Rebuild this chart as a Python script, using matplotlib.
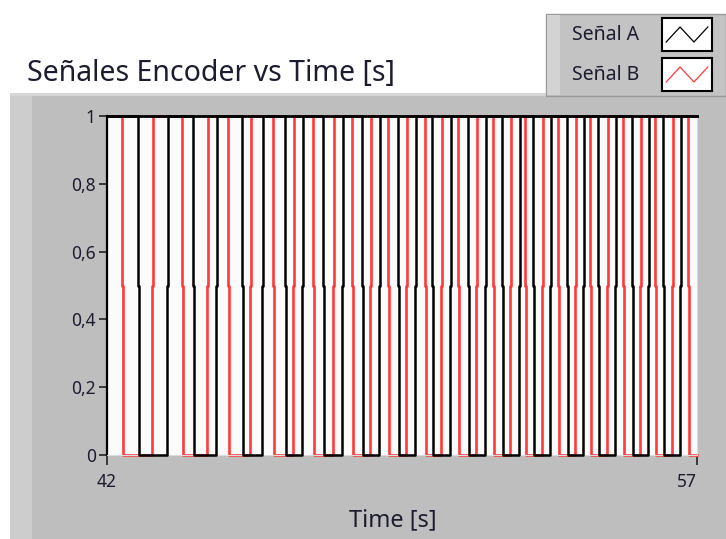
import numpy as np
import matplotlib.pyplot as plt
from matplotlib.patches import Rectangle

plt.rcParams['font.family'] = ['Noto Sans', 'DejaVu Sans']

# time window of the chart
t_start = 42.0
t_end = 57.0

# Señal A (black): falling / rising edges [s]
a_fall = [42.79, 44.19, 45.43, 46.53, 47.49, 48.48, 49.40, 50.26, 51.18, 52.04,
          52.83, 53.70, 54.48, 55.35, 56.14]
a_rise = [43.53, 44.77, 45.94, 46.96, 47.98, 48.92, 49.83, 50.72, 51.61, 52.48,
          53.26, 54.10, 54.92, 55.75, 56.57]

# Señal B (red): falling / rising edges [s]
b_fall = [42.38, 43.91, 45.08, 46.22, 47.24, 48.23, 49.14, 50.09, 50.92, 51.81,
          52.63, 53.47, 54.28, 55.12, 55.93, 56.77]
b_rise = [43.14, 44.54, 45.64, 46.73, 47.75, 48.69, 49.60, 50.49, 51.38, 52.25,
          53.06, 53.90, 54.71, 55.55, 56.36]

y_ticks = [0, 0.2, 0.4, 0.6, 0.8, 1]
y_tick_labels = ['0', '0,2', '0,4', '0,6', '0,8', '1']
x_ticks = [42, 57]
x_tick_labels = ['42', '57']

text_col = '#1c1c30'


def square_wave(falls, rises, dt=0.03):
    # each edge spans one sample step, drawn LabVIEW-like with a jog at mid height
    edges = sorted([(t, 0) for t in falls] + [(t, 1) for t in rises])
    xs = [t_start]
    ys = [1]
    level = 1
    for t, v in edges:
        xs += [t, t, t + dt, t + dt]
        ys += [level, 0.5, 0.5, v]
        level = v
    xs.append(t_end)
    ys.append(level)
    return np.array(xs), np.array(ys)


W, H = 726, 539
fig = plt.figure(figsize=(W / 100, H / 100), dpi=100)
fig.patch.set_facecolor('white')


def px_rect(x0, y0, x1, y1, z, **kw):
    # rectangle given in image pixels (y down)
    r = Rectangle((x0 / W, 1 - y1 / H), (x1 - x0) / W, (y1 - y0) / H,
                  transform=fig.transFigure, zorder=z, **kw)
    fig.patches.append(r)


# main gray panel
px_rect(10, 93, 726, 539, -10, facecolor='#bebebe', edgecolor='none')
px_rect(10, 93, 32, 539, -9, facecolor='#cdcdcd', edgecolor='none')
px_rect(10, 93, 726, 96, -9, facecolor='#d6d6d6', edgecolor='none')

# legend panel
px_rect(546, 14, 726, 96, -5, facecolor='#c3c3c3', edgecolor='#9a9a9a', lw=1)
px_rect(547, 15, 560, 95, -4, facecolor='#d3d3d3', edgecolor='none')

fig.text(27 / W, 1 - 73 / H, 'Señales Encoder vs Time [s]', fontsize=20.5,
         color=text_col, va='center', ha='left')

ax = fig.add_axes([107 / W, 1 - 455 / H, 590 / W, (455 - 116) / H])
ax.set_facecolor('#fbfbfb')

xb, yb = square_wave(b_fall, b_rise)
xa, ya = square_wave(a_fall, a_rise)
ax.plot(xb, yb, color='#ff3a3a', lw=1.9, zorder=2, clip_on=False)
ax.plot(xa, ya, color='black', lw=1.8, zorder=3, clip_on=False)

ax.set_xlim(t_start, t_end)
ax.set_ylim(0, 1)

ax.set_yticks(y_ticks)
ax.set_yticklabels(y_tick_labels)
ax.set_xticks(x_ticks)
ax.set_xticklabels(x_tick_labels)
ax.get_xticklabels()[1].set_ha('right')

ax.tick_params(axis='y', direction='out', length=6, width=1.2, pad=2,
               labelsize=12.5, colors='#222222', labelcolor=text_col)
ax.tick_params(axis='x', direction='out', length=7, width=1.2, pad=6,
               labelsize=12.5, colors='#222222', labelcolor=text_col)

ax.spines['top'].set_color('black')
ax.spines['top'].set_linewidth(2)
ax.spines['left'].set_color('black')
ax.spines['left'].set_linewidth(1.6)
ax.spines['bottom'].set_color('#dcdcdc')
ax.spines['right'].set_color('#dcdcdc')

fig.text(393 / W, 1 - 520 / H, 'Time [s]', fontsize=17, color=text_col,
         ha='center', va='center')

# legend entries
legend_names = ['Señal A', 'Señal B']
legend_colors = ['black', '#ff3a3a']
legend_rows = [(18, 51), (58, 91)]
for name, col, (y0, y1) in zip(legend_names, legend_colors, legend_rows):
    fig.text(572 / W, 1 - (y0 + y1) / 2 / H, name, fontsize=14,
             color=text_col, ha='left', va='center')
    lax = fig.add_axes([662 / W, 1 - y1 / H, 50 / W, (y1 - y0) / H])
    lax.set_facecolor('white')
    lax.plot([0, 1, 2, 3], [0, 1, 0, 1], color=col, lw=0.9)
    lax.set_xlim(-0.3, 3.3)
    lax.set_ylim(-0.6, 1.6)
    lax.set_xticks([])
    lax.set_yticks([])
    for s in lax.spines.values():
        s.set_color('black')
        s.set_linewidth(1.5)

fig.savefig('out.png', dpi=100)
